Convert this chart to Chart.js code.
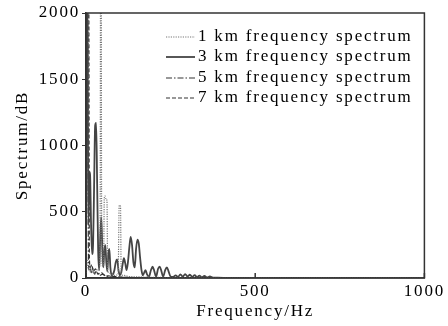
<!DOCTYPE html>
<html>
<head>
<meta charset="utf-8">
<script src="https://cdn.jsdelivr.net/npm/chart.js@4.4.1/dist/chart.umd.min.js"></script>
<style>
  html, body { margin: 0; padding: 0; background: #fff; }
  #wrap { width: 448px; height: 326px; }
</style>
</head>
<body>
<div id="wrap"><canvas id="myChart" width="448" height="326"></canvas></div>
<script>
// etiquetas de las series
const seriesLabels = ["1 km frequency spectrum", "3 km frequency spectrum", "5 km frequency spectrum", "7 km frequency spectrum"];

// 1 km (punteada)
const freq1 = [0, 3, 6, 10, 15, 20, 25, 30, 35, 40, 42, 43, 45, 46, 48, 52, 54, 56, 58, 60, 62, 64, 68, 75, 85, 95, 98, 100, 102, 104, 110, 130, 160, 200, 300, 400, 500, 700, 1000];
const spec1 = [0, 150, 80, 60, 40, 50, 30, 40, 60, 80, 600, 2300, 2300, 600, 100, 80, 600, 620, 600, 600, 580, 60, 40, 30, 20, 30, 540, 550, 540, 30, 20, 10, 8, 5, 3, 2, 1, 1, 0];

// 3 km (continua)
const freq3 = [0, 1, 3, 5, 7, 10, 12, 15, 18, 21, 24, 27, 30, 33, 36, 39, 42, 45, 48, 51, 54, 57, 60, 63, 66, 69, 72, 76, 80, 84, 88, 92, 96, 100, 104, 108, 112, 116, 120, 124, 128, 132, 136, 140, 144, 148, 152, 156, 160, 164, 168, 172, 176, 180, 186, 192, 197, 202, 207, 213, 218, 223, 228, 234, 239, 244, 250, 257, 265, 272, 279, 286, 293, 300, 307, 314, 321, 328, 335, 342, 350, 358, 366, 375, 390, 420, 500, 700, 1000];
const spec3 = [0, 2300, 2300, 1500, 400, 800, 780, 400, 180, 260, 700, 1150, 1170, 700, 200, 60, 300, 460, 250, 80, 200, 250, 120, 50, 180, 220, 80, 20, 30, 60, 120, 140, 60, 20, 40, 100, 150, 110, 60, 120, 230, 310, 250, 120, 80, 220, 290, 260, 150, 60, 20, 40, 60, 30, 10, 60, 85, 50, 10, 70, 85, 50, 10, 60, 80, 50, 10, 8, 20, 8, 28, 10, 30, 12, 25, 8, 22, 6, 18, 5, 15, 4, 12, 3, 2, 1, 0, 0, 0];

// 5 km (raya-punto)
const freq5 = [0, 1, 2, 5, 7, 9, 12, 16, 20, 25, 30, 40, 50, 60, 80, 100, 150, 200, 300, 500, 1000];
const spec5 = [0, 2300, 2300, 2300, 200, 60, 90, 40, 70, 30, 50, 20, 30, 10, 8, 5, 3, 2, 1, 0, 0];

// 7 km (rayas)
const freq7 = [0, 2, 4, 6, 8, 10, 13, 17, 22, 28, 35, 45, 55, 70, 90, 120, 200, 400, 1000];
const spec7 = [0, 2300, 2300, 2300, 2300, 150, 80, 100, 50, 70, 30, 40, 20, 15, 10, 5, 3, 1, 0];

const xTicks = [0, 500, 1000];
const yTicks = [0, 500, 1000, 1500, 2000];

function puntos(xs, ys) {
  return xs.map((x, i) => ({ x: x, y: ys[i] }));
}

const fuente = "'Liberation Serif', 'Times New Roman', serif";
const espaciado = "1.8px";

const marcoPlugin = {
  id: "marco",
  beforeLayout(chart) { chart.ctx.letterSpacing = espaciado; },
  beforeDraw(chart) { chart.ctx.letterSpacing = espaciado; },
  afterDraw(chart) {
    const ctx = chart.ctx;
    const a = chart.chartArea;
    const xs = chart.scales.x;
    ctx.save();
    // marco completo
    ctx.strokeStyle = "#333";
    ctx.lineWidth = 1.5;
    ctx.strokeRect(a.left, a.top, a.right - a.left, a.bottom - a.top);
    // ticks hacia adentro en el eje x
    xTicks.forEach(v => {
      const px = xs.getPixelForValue(v);
      ctx.beginPath();
      ctx.moveTo(px, a.bottom);
      ctx.lineTo(px, a.bottom - 5);
      ctx.stroke();
    });
    // leyenda
    ctx.font = "17px " + fuente;
    ctx.textBaseline = "middle";
    ctx.textAlign = "left";
    const filas = [37, 57, 78, 98];
    chart.data.datasets.forEach((ds, i) => {
      const y = filas[i];
      ctx.beginPath();
      ctx.setLineDash(ds.borderDash || []);
      ctx.strokeStyle = ds.borderColor;
      ctx.lineWidth = ds.borderWidth;
      ctx.moveTo(166, y);
      ctx.lineTo(195, y);
      ctx.stroke();
      ctx.setLineDash([]);
      ctx.fillStyle = "#000";
      ctx.fillText(ds.label, 198, y);
    });
    ctx.restore();
  }
};

const ctx = document.getElementById("myChart");
new Chart(ctx, {
  type: "line",
  data: {
    datasets: [
      {
        label: seriesLabels[0],
        data: puntos(freq1, spec1),
        borderColor: "#777",
        borderWidth: 1.2,
        borderDash: [1.2, 1.2],
      },
      {
        label: seriesLabels[1],
        data: puntos(freq3, spec3),
        borderColor: "#444",
        borderWidth: 1.8,
      },
      {
        label: seriesLabels[2],
        data: puntos(freq5, spec5),
        borderColor: "#333",
        borderWidth: 1.2,
        borderDash: [6, 2, 1.5, 2],
      },
      {
        label: seriesLabels[3],
        data: puntos(freq7, spec7),
        borderColor: "#333",
        borderWidth: 1.2,
        borderDash: [4, 2],
      },
    ],
  },
  options: {
    responsive: false,
    animation: false,
    elements: {
      point: { radius: 0 },
      line: { cubicInterpolationMode: "monotone", fill: false },
    },
    layout: { padding: { top: 13, right: 23, left: 0, bottom: 0 } },
    plugins: {
      legend: { display: false },
      tooltip: { enabled: false },
    },
    scales: {
      x: {
        type: "linear",
        min: xTicks[0],
        max: xTicks[xTicks.length - 1],
        afterBuildTicks: (s) => { s.ticks = xTicks.map(v => ({ value: v })); },
        grid: { display: false, drawTicks: false },
        border: { display: true, color: "#333", width: 1.5 },
        ticks: { color: "#000", font: { family: fuente, size: 17 }, padding: 3, maxRotation: 0, callback: (v) => String(v) },
        title: { display: true, text: "Frequency/Hz", color: "#000", font: { family: fuente, size: 17 }, padding: { top: 4 } },
        afterFit: (s) => { s.height = 48; },
      },
      y: {
        min: yTicks[0],
        max: yTicks[yTicks.length - 1],
        afterBuildTicks: (s) => { s.ticks = yTicks.map(v => ({ value: v })); },
        grid: { display: true, drawOnChartArea: false, tickLength: 4, color: "#333" },
        border: { display: true, color: "#333", width: 1.5 },
        ticks: { color: "#000", font: { family: fuente, size: 17 }, padding: 2, callback: (v) => String(v) },
        title: { display: true, text: "Spectrum/dB", color: "#000", font: { family: fuente, size: 17 }, padding: { top: 12 } },
        afterFit: (s) => { s.width = 86; },
      },
    },
  },
  plugins: [marcoPlugin],
});
</script>
</body>
</html>
